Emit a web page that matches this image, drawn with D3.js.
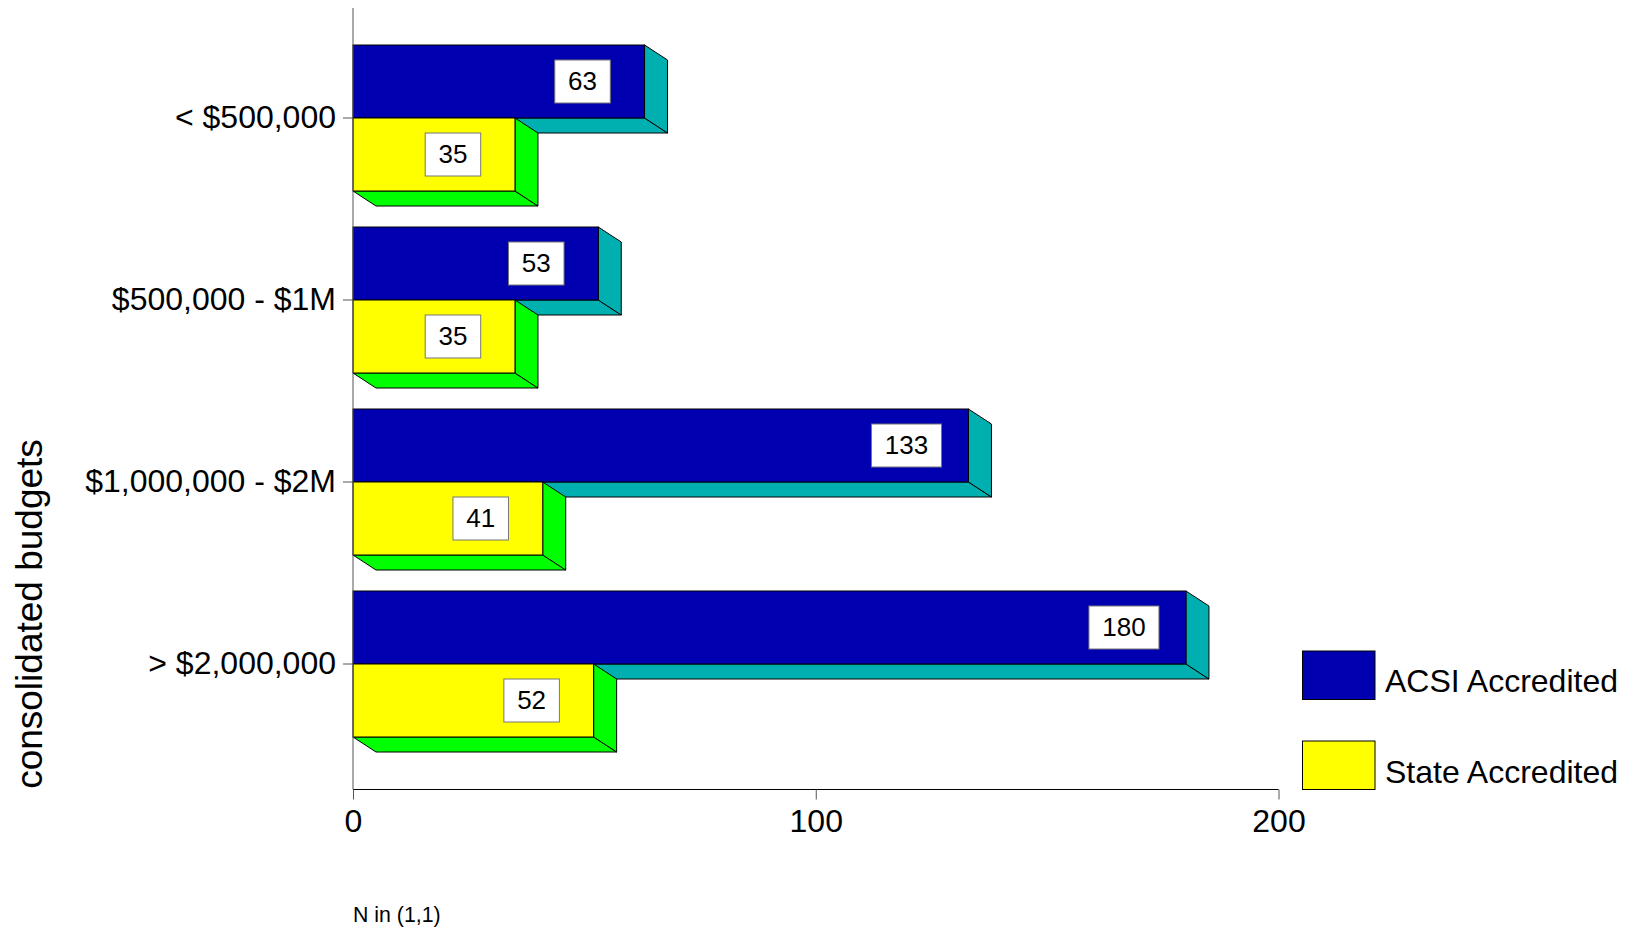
<!DOCTYPE html>
<html><head><meta charset="utf-8"><style>html,body{margin:0;background:#fff}svg{display:block}text{font-family:"Liberation Sans",Arial,sans-serif;fill:#000}</style>
<script src="https://cdn.jsdelivr.net/npm/d3@7"></script></head><body><svg id="c" width="1626" height="929"></svg>
<script>
const categories=["< $500,000","$500,000 - $1M","$1,000,000 - $2M","> $2,000,000"];
const acsi=[63,53,133,180];
const state=[35,35,41,52];
const xTicks=[0,100,200];
const seriesNames=["ACSI Accredited","State Accredited"];
const seriesColors=["#0000b0","#ffff00"];
const svg=d3.select("#c");
const x=d3.scaleLinear().domain([0,200]).range([353,1278.5]);
const y=d3.scaleBand().domain(categories).range([27,755]);
const dx=23,dy=15,bh=73;
const cy=c=>y(c)+y.bandwidth()/2;
function bar(v,top,front,side){
  const x0=x(0),x1=x(v),y1=top+bh;
  const g=svg.append("g").attr("stroke","#000").attr("stroke-width",1);
  g.append("path").attr("d",`M${x0},${y1}L${x1},${y1}L${x1+dx},${y1+dy}L${x0+dx},${y1+dy}Z`).attr("fill",side);
  g.append("path").attr("d",`M${x1},${top}L${x1+dx},${top+dy}L${x1+dx},${y1+dy}L${x1},${y1}Z`).attr("fill",side);
  g.append("rect").attr("x",x0).attr("y",top).attr("width",x1-x0).attr("height",bh).attr("fill",front);
}
function label(v,top){
  const w=v>=100?70:55.5,h=43,cx=x(v)-62;
  const g=svg.append("g");
  g.append("rect").attr("x",cx-w/2).attr("y",top+bh/2-h/2).attr("width",w).attr("height",h).attr("fill","#fff").attr("stroke","#777").attr("stroke-width",1);
  g.append("text").attr("x",cx).attr("y",top+bh/2+8).attr("text-anchor","middle").attr("font-size",26).text(v);
}
categories.forEach((c,i)=>bar(acsi[i],cy(c)-bh,seriesColors[0],"#00b0b0"));
categories.forEach((c,i)=>{
  bar(state[i],cy(c),seriesColors[1],"#00ff00");
  label(acsi[i],cy(c)-bh);
  label(state[i],cy(c));
});
const ax=svg.append("g");
const axB=ax.append("g").attr("transform","translate(0,789.5)").call(d3.axisBottom(x).tickValues(xTicks).tickSize(10).tickPadding(0).tickFormat(d3.format("d")));
axB.select(".domain").attr("stroke","#000").attr("d",`M${x(0)},0H${x(200)}`);
axB.selectAll(".tick line").attr("stroke","#555");
axB.selectAll(".tick text").attr("font-size",32).attr("dy",null).attr("y",42.5);
const axL=ax.append("g").attr("transform",`translate(${x(0)},0)`).call(d3.axisLeft(y).tickSize(10).tickPadding(0));
axL.select(".domain").attr("stroke","#555").attr("d","M0,8V789.5");
axL.selectAll(".tick line").attr("stroke","#555");
axL.selectAll(".tick text").attr("font-size",32).attr("dy",null).attr("x",-17).attr("y",10);
axL.attr("font-family",null);axB.attr("font-family",null);
svg.append("text").attr("transform","translate(42,614) rotate(-90)").attr("text-anchor","middle").attr("font-size",37).text("consolidated budgets");
svg.append("text").attr("x",353).attr("y",922).attr("font-size",21.3).text("N in (1,1)");
[651,741].forEach((ly,i)=>{
  svg.append("rect").attr("x",1302.5).attr("y",ly).attr("width",72.5).attr("height",48.5).attr("fill",seriesColors[i]).attr("stroke","#000");
  svg.append("text").attr("x",1385).attr("y",ly+41+i).attr("font-size",32).text(seriesNames[i]);
});
</script></body></html>
